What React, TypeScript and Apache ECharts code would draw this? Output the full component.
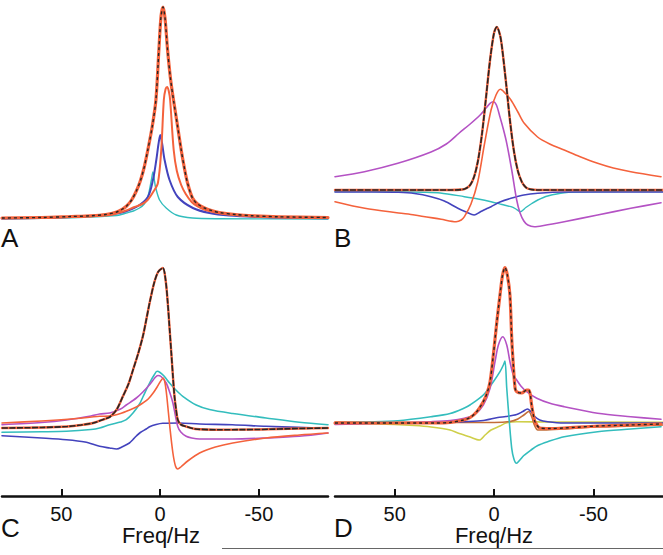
import React, { useEffect, useRef } from "react";
import * as echarts from "echarts";

type P = [number, number][];

// ---------- labels ----------
const freqTicks = [50, 0, -50];
const panelLabels = ["A", "B", "C", "D"];
const axisTitle = "Freq/Hz";

// ---------- panel A (intensity above baseline) ----------
const aTotal: P = [[80,1],[60,1.5],[45,2.5],[35,3.2],[27.5,4.5],[22,7],[19,10],[16.9,13],[14.4,19],[12,28],[10,38],[8,52],[6.2,69],[4,92],[2.1,119],[0.6,169],[-0.5,203],[-1.5,212],[-2.5,201],[-3.8,169],[-5.3,140],[-6.8,119],[-8.7,95],[-10.7,69],[-12.4,50],[-13.9,36],[-16.4,21],[-19,15],[-22.5,11],[-26,8.5],[-30,6.5],[-38,4.5],[-47,3.2],[-60,2.2],[-85,1.5]];
const aOrange: P = [[80,1],[60,1.5],[40,2.5],[25.5,4],[18,8],[12.9,12],[9,15],[6.3,19],[3.5,27],[1.1,36],[-0.6,69],[-1.9,119],[-2.8,130],[-3.6,132],[-4.4,128],[-5.1,119],[-6.9,69],[-8.5,48],[-10.7,34],[-13,25],[-16,17],[-19,12.5],[-23,9],[-28,6.5],[-35,4.5],[-45,3],[-60,2],[-85,1.2]];
const aBlue: P = [[80,0.5],[60,1],[45,2],[32,3.5],[20.5,6],[12,12],[6.2,22],[3.6,39],[1.9,59],[0.8,75],[-0.1,84],[-1,76],[-2.3,59],[-4.8,39],[-9,22],[-16.6,11],[-25,6],[-35,3.5],[-50,2],[-65,1.2],[-85,0.8]];
const aCyan: P = [[80,0.3],[60,0.6],[45,1.2],[32,2.2],[24,3.2],[20.5,4],[17.1,6],[13.5,8],[10.4,11],[8,15],[6.2,22],[4.4,39],[3.6,47],[2.8,38],[2.3,32],[0.25,19],[-3.1,11],[-8.2,4],[-16.4,1],[-30,0.3],[-85,0]];

// ---------- panel B ----------
const bTotal: P = [[80,0],[22,0],[16,0.5],[14,1.7],[12,5],[10,13.4],[8,30],[6,57],[4,93],[2,130],[0,157],[-1.4,163],[-3,155],[-4,143],[-6,108],[-8,70],[-10,39],[-12,19],[-14,8],[-16,2.7],[-18,0.8],[-22,0],[-85,0]];
const bOrange: P = [[80,-11.7],[65,-18.3],[48,-23],[40,-25],[26.6,-29.3],[19.1,-31.7],[16.5,-30],[14.9,-26.7],[11.6,-14],[8.2,8],[4.9,45],[1.5,80],[-1,95],[-3.2,100.7],[-5.5,97],[-8.5,90],[-12,78],[-15.2,66.7],[-21.9,53],[-28,46],[-35.3,40],[-43,33.5],[-52.1,26.7],[-60,22],[-68.8,18.3],[-84,13.3]];
const bMagenta: P = [[80,13.3],[65.2,18.3],[48.4,26.7],[31.7,38],[24,46],[17.5,57],[12,66],[7,75],[4,82],[2,86.7],[0.3,88.3],[-1.2,85],[-3,73],[-4.8,60],[-6.4,46.7],[-8.9,20],[-11.4,-10],[-13.1,-23],[-15,-31],[-17,-35],[-20.3,-36.7],[-25,-35.5],[-35.3,-31.7],[-52.1,-25],[-68.8,-18.3],[-84,-12.7]];
const bBlue: P = [[80,-2],[60,-2],[48,-2.3],[40,-3.5],[31.7,-6.7],[25,-11],[18.2,-18.3],[14,-22],[10,-25],[7,-22],[4,-19],[1.5,-16.7],[-3,-12],[-8.5,-8.3],[-15,-5],[-22,-3.3],[-35,-2],[-85,-2]];
const bCyan: P = [[80,-1.5],[50,-1.7],[35,-2.2],[27,-3],[14.9,-6.7],[8,-9],[1.5,-11.7],[-4,-14.5],[-8.5,-16.7],[-11,-19],[-13.2,-21.7],[-16,-17.5],[-19,-13.5],[-22,-10],[-27,-6],[-35.3,-2.7],[-50,-1.8],[-85,-1.5]];

// ---------- panel C ----------
const cTotal: P = [[80,0],[60,0.5],[47,1.5],[40,3],[33.9,5],[28,9],[25.5,11],[22.1,18],[18.8,31.7],[16,44],[13.7,58],[11,75],[8.7,91.7],[7,108],[5.3,125],[3,145],[1,156],[-1.4,160],[-2.8,148],[-3.9,125],[-4.8,100],[-5.7,75],[-6.5,52],[-7.3,31.7],[-8.2,17],[-9,8],[-10.5,3.5],[-13.2,1.5],[-18,-1],[-30,-1.7],[-50,-1.5],[-70,-0.5],[-85,0]];
const cOrange: P = [[80,5],[60,7],[45,9],[30.6,11.7],[25.5,12],[20,14.5],[15.4,18],[12,21],[8.7,25],[6,29],[3.6,34.7],[1.5,41],[0,46],[-1.6,50],[-2.6,44],[-3.5,30],[-5,0],[-6.5,-25],[-7.8,-38],[-9,-41],[-10.5,-39],[-14,-33],[-20,-25],[-28,-19],[-36.8,-15],[-53.6,-10],[-70.5,-7],[-85,-5]];
const cMagenta: P = [[80,3.3],[60,5.5],[47.4,8],[35,12],[30.6,14],[25.5,15],[20,19],[17.1,23],[12,30],[8.7,36],[5,44],[2.5,50.5],[1.1,52.5],[-0.5,51.5],[-3.1,45],[-5,35],[-6.5,25],[-7.8,12],[-9,1.3],[-10.5,-4],[-13.2,-8.3],[-16,-10],[-20,-11],[-36.6,-11],[-53.6,-10],[-70.5,-8.3],[-85,-5]];
const cCyan: P = [[80,-4.3],[60,-3.8],[47.4,-3.3],[35,-1.5],[30.6,0],[25.5,3.3],[20,6],[17.1,8.3],[13.7,15],[10.4,24],[8.7,31],[5.3,45],[3,53],[1.5,56.7],[0,55.5],[-2,52],[-4.8,45],[-8,38],[-11.5,31.7],[-18.3,23],[-25,18.5],[-36.8,14.5],[-53.6,10],[-70.5,5.7],[-85,3.3]];
const cBlue: P = [[80,-7.7],[60,-10],[47.4,-11.7],[38,-14],[30.6,-18.3],[25.5,-20],[22,-21],[18.8,-18.5],[15.5,-15],[13.7,-11.5],[12,-8],[10,-4.5],[7,-1],[5.3,1.3],[2,3.5],[-1.4,4.7],[-9.8,5],[-20,4],[-36.6,3.3],[-53.6,1.7],[-70,0.6],[-85,0]];

// ---------- panel D ----------
const dTotal: P = [[80,0],[30,0],[22.1,0.5],[15.4,3],[12,5.5],[8.7,11.3],[5.4,21.3],[3.5,30],[2,41.3],[0.35,68],[-1.4,101],[-3,128],[-4.3,148],[-5.5,155.5],[-6.7,148],[-8,128],[-8.9,84.7],[-9.8,55],[-10.6,34.7],[-11.4,31.3],[-13.9,30],[-16.4,33],[-17.3,33],[-18.1,30],[-18.9,18],[-19.8,8],[-20.6,1.3],[-23.1,-5],[-28.1,-5.5],[-35.3,-5],[-52.1,-3],[-68,-2],[-84,-1]];
const dMagenta: P = [[80,-1.5],[60,-0.5],[45,0.3],[31.7,1.3],[22,2.5],[14.9,4.7],[10,8],[5.4,18],[2,34.7],[-0.5,61.3],[-2.2,78],[-4.4,86.3],[-6.4,78],[-8,61.3],[-9.7,48],[-11.4,43],[-13.5,37],[-16.4,31.3],[-21.5,24.7],[-28.1,19.7],[-35.3,16.3],[-52.1,9.7],[-68.8,6.3],[-84,3.7]];
const dCyan: P = [[80,0],[65,1],[48.4,2.3],[31.7,6.3],[22.1,9.5],[14.9,15],[12.1,18],[5.4,28],[0.35,41.3],[-3,51.3],[-4.7,58],[-5.5,62],[-6.4,34.7],[-7.7,1.3],[-8.9,-25.3],[-10,-36],[-11.3,-40.3],[-13,-37],[-15,-32.5],[-18.6,-27],[-22,-22.5],[-27,-18.7],[-35.3,-13.7],[-52.1,-8.7],[-68.8,-6],[-84,-3.7]];
const dBlue: P = [[80,-0.5],[40,0],[25,0.5],[14.9,1.3],[5.4,2.5],[-1.9,5.5],[-6,6.5],[-11.4,8.5],[-14.5,11.5],[-16.8,14],[-18.5,11.5],[-20.5,6.5],[-23,3],[-27,1.3],[-35,0],[-85,0]];
const dBrown: P = [[80,1],[30,0.5],[0,0.5],[-8,1.5],[-12,4],[-15,8],[-17.5,11.5],[-19,6],[-20.5,-3],[-22,-7],[-25,-7],[-35,-6],[-50,-4],[-70,-3],[-85,-2]];
const dYellow: P = [[80,0],[50,-1.5],[40,-2.5],[31.7,-4],[22.1,-7],[18.2,-10],[12,-14],[7.4,-17],[4.5,-12],[1.5,-7],[-3,-3],[-6,0],[-11.4,1.3],[-30,1],[-85,0.7]];

// ---------- styling ----------
const C_ORANGE = "#f4623c";
const C_BLUE = "#4343bd";
const C_CYAN = "#33bdbd";
const C_MAGENTA = "#b452c4";
const C_BLACK = "#262626";
const C_YELLOW = "#cfcf4a";
const C_BROWN = "#c26d38";
const FONT = "'Liberation Sans', Arial, Helvetica, sans-serif";

function line(data: P, idx: number, color: string, width: number, z: number, dash?: number[]) {
  return {
    type: "line",
    xAxisIndex: idx,
    yAxisIndex: idx,
    data,
    symbol: "none",
    showSymbol: false,
    smooth: 0.3,
    silent: true,
    z,
    lineStyle: dash
      ? { color, width, type: dash }
      : { color, width, cap: "round", join: "round" },
  };
}

// total fit: orange underlay with black dashes; "dark" panels show mostly black
function total(data: P, idx: number, dark: boolean) {
  return dark
    ? [line(data, idx, C_ORANGE, 2.4, 8), line(data, idx, C_BLACK, 1.6, 9, [6, 1.5])]
    : [line(data, idx, C_ORANGE, 3.2, 8), line(data, idx, C_BLACK, 1.4, 9, [3, 3])];
}

const grids = [
  { left: 2, top: 0, width: 326, height: 225 },
  { left: 335, top: 0, width: 328, height: 240 },
  { left: 2, top: 250, width: 326, height: 246 },
  { left: 335, top: 250, width: 328, height: 246 },
];
const yRanges: [number, number][] = [
  [-6, 219],
  [-50, 190],
  [-68, 178],
  [-73, 173],
];

export default function App() {
  const ref = useRef<HTMLDivElement>(null);
  useEffect(() => {
    if (!ref.current) return;
    const chart = echarts.init(ref.current, undefined, { renderer: "svg" });
    const xAxis = grids.map((_, i) => {
      const shown = i >= 2;
      return {
        type: "value",
        gridIndex: i,
        min: -85,
        max: 80,
        inverse: true,
        show: shown,
        splitLine: { show: false },
        axisLine: { show: shown, onZero: false, lineStyle: { color: "#111", width: 2.5 } },
        axisTick: {
          show: shown,
          inside: true,
          length: 7,
          customValues: freqTicks,
          lineStyle: { color: "#111", width: 2 },
        },
        axisLabel: {
          show: shown,
          customValues: freqTicks,
          fontSize: 20,
          lineHeight: 15,
          color: "#111",
          margin: 10,
          fontFamily: FONT,
        },
      };
    });
    const yAxis = yRanges.map((r, i) => ({
      type: "value",
      gridIndex: i,
      min: r[0],
      max: r[1],
      show: false,
      splitLine: { show: false },
    }));

    const series = [
      // A
      line(aCyan, 0, C_CYAN, 1.4, 2),
      line(aBlue, 0, C_BLUE, 2, 3),
      line(aOrange, 0, C_ORANGE, 2, 4),
      ...total(aTotal, 0, false),
      // B
      line(bCyan, 1, C_CYAN, 1.4, 2),
      line(bBlue, 1, C_BLUE, 1.6, 3),
      line(bMagenta, 1, C_MAGENTA, 1.6, 4),
      line(bOrange, 1, C_ORANGE, 1.6, 5),
      ...total(bTotal, 1, true),
      // C
      line(cBlue, 2, C_BLUE, 1.6, 2),
      line(cCyan, 2, C_CYAN, 1.6, 3),
      line(cMagenta, 2, C_MAGENTA, 1.6, 4),
      line(cOrange, 2, C_ORANGE, 1.6, 5),
      ...total(cTotal, 2, true),
      // D
      line(dYellow, 3, C_YELLOW, 1.6, 2),
      line(dBrown, 3, C_BROWN, 1.6, 3),
      line(dBlue, 3, C_BLUE, 1.6, 4),
      line(dCyan, 3, C_CYAN, 1.6, 5),
      line(dMagenta, 3, C_MAGENTA, 1.6, 6),
      ...total(dTotal, 3, false),
    ];

    const labelPos: [number, number][] = [
      [1, 237.5],
      [334, 237.5],
      [1, 527.5],
      [334, 528],
    ];
    const graphic: any[] = panelLabels.map((t, i) => ({
      type: "text",
      x: labelPos[i][0],
      y: labelPos[i][1],
      silent: true,
      style: {
        text: t,
        fontSize: 26,
        lineHeight: 22,
        fontFamily: FONT,
        fill: "#111",
        textAlign: "left",
        textVerticalAlign: "middle",
        verticalAlign: "middle",
      },
    }));
    [161, 494].forEach((cx) =>
      graphic.push({
        type: "text",
        x: cx,
        y: 535,
        silent: true,
        style: {
          text: axisTitle,
          fontSize: 22,
          lineHeight: 17,
          fontFamily: FONT,
          fill: "#111",
          textAlign: "center",
          textVerticalAlign: "middle",
          verticalAlign: "middle",
        },
      })
    );
    graphic.push({
      type: "line",
      silent: true,
      shape: { x1: 222, y1: 548.5, x2: 663, y2: 548.5 },
      style: { stroke: "#666", lineWidth: 1 },
    });

    chart.setOption({
      animation: false,
      backgroundColor: "#fff",
      grid: grids.map((g) => ({ ...g, containLabel: false, outerBoundsMode: "none" })),
      xAxis,
      yAxis,
      series,
      graphic,
    });
    return () => chart.dispose();
  }, []);
  return (
    <div
      ref={ref}
      style={{ position: "fixed", left: 0, top: 0, width: 663, height: 555, background: "#fff" }}
    />
  );
}
